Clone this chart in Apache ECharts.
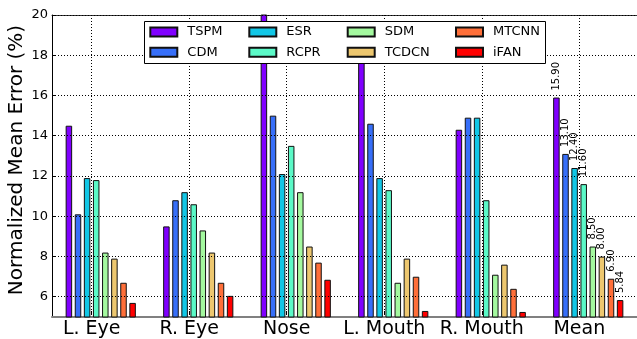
<!DOCTYPE html>
<html lang="en">
<head>
<meta charset="UTF-8">
<title>Normalized Mean Error</title>
<style>
    * {
        margin: 0;
        padding: 0;
    }

    #main {
        width: 637px;
        height: 339px;
    }
</style>
</head>
<body>
<div id="main"></div>
<script src="https://cdn.jsdelivr.net/npm/echarts@6/dist/echarts.min.js"></script>
<script>
    // data
    let categories = ['L. Eye', 'R. Eye', 'Nose', 'L. Mouth', 'R. Mouth', 'Mean'];
    let methods = ['TSPM', 'CDM', 'ESR', 'RCPR', 'SDM', 'TCDCN', 'MTCNN', 'iFAN'];
    let tspm = [14.5, 9.5, 22.2, 19.0, 14.3, 15.90];
    let cdm = [10.1, 10.8, 15.0, 14.6, 14.9, 13.10];
    let esr = [11.9, 11.2, 12.1, 11.9, 14.9, 12.40];
    let rcpr = [11.8, 10.6, 13.5, 11.3, 10.8, 11.60];
    let sdm = [8.2, 9.3, 11.2, 6.7, 7.1, 8.50];
    let tcdcn = [7.9, 8.2, 8.5, 7.9, 7.6, 8.00];
    let mtcnn = [6.7, 6.7, 7.7, 7.0, 6.4, 6.90];
    let ifan = [5.7, 6.05, 6.85, 5.3, 5.25, 5.84];
    let yMin = 5, yMax = 20;
    let yTickMin = 6, yTickStep = 2;

    let values = [tspm, cdm, esr, rcpr, sdm, tcdcn, mtcnn, ifan];
    let colors = ['#8000ff', '#376ff9', '#12c7e6', '#5bf9c7', '#a4f99f', '#edc76f', '#ff6f39', '#ff0000'];

    let series = methods.map((name, k) => {
        return {
            name: name,
            type: 'bar',
            xAxisIndex: 0,
            yAxisIndex: 0,
            barWidth: 6.5,
            barGap: '40%',
            z: 2,
            itemStyle: {
                color: colors[k],
                borderColor: '#111',
                borderWidth: 1
            },
            label: {
                show: false,
                position: 'top',
                rotate: 90,
                align: 'left',
                verticalAlign: 'middle',
                distance: 7,
                fontSize: 10,
                color: '#000',
                formatter: p => p.value.toFixed(2)
            },
            // only the Mean group is labelled
            data: values[k].map((v, i) => i === categories.length - 1 ? { value: v, label: { show: true } } : v)
        }
    })

    // matplotlib legend fills column by column: 4 columns of 2
    let legendCols = [149.3, 248.3, 346.7, 455];
    let legends = legendCols.map((x, c) => {
        return {
            orient: 'vertical',
            left: x,
            top: 25.5,
            padding: 0,
            itemWidth: 27,
            itemHeight: 9,
            itemGap: 7.3,
            icon: 'rect',
            selectedMode: false,
            z: 11,
            textStyle: {
                fontSize: 13,
                color: '#000',
                padding: [0, 0, 0, 5]
            },
            data: [methods[c * 2], methods[c * 2 + 1]]
        }
    })

    let hiddenAxis = {
        show: false
    }

    let option = {
        animation: false,
        textStyle: { fontFamily: 'DejaVu Sans' },
        grid: [
            { left: 52, right: 0, top: 15, bottom: 22 },  // bars + frame
            { left: 91.7, right: 57.7, top: 15, bottom: 22 },  // x ticks, labels, vertical grid
            { left: 52, right: 0, top: 15, bottom: 42.3 }   // y ticks, labels, horizontal grid
        ],
        legend: legends,
        xAxis: [
            {
                gridIndex: 0, type: 'category', data: categories,
                axisLabel: { show: false }, axisTick: { show: false },
                axisLine: { show: true, onZero: false, lineStyle: { color: '#808080', width: 2 } }
            },
            {
                gridIndex: 0, type: 'category', data: categories, position: 'top',
                axisLabel: { show: false }, axisTick: { show: false },
                axisLine: { show: true, onZero: false, lineStyle: { color: '#333', width: 1 } }
            },
            {
                gridIndex: 1, type: 'category', data: categories, boundaryGap: false, z: 3,
                axisLine: { show: false },
                axisTick: { show: true, inside: true, length: 4, interval: 0, lineStyle: { color: '#000' } },
                axisLabel: { fontSize: 19, color: '#000', margin: 5, interval: 0, hideOverlap: false },
                splitLine: { show: true, interval: 0, lineStyle: { color: '#000', width: 1, type: [1, 2] } }
            },
            Object.assign({ gridIndex: 2, type: 'value' }, hiddenAxis)
        ],
        yAxis: [
            {
                gridIndex: 0, type: 'value', min: yMin, max: yMax,
                axisLabel: { show: false }, axisTick: { show: false }, splitLine: { show: false },
                axisLine: { show: true, lineStyle: { color: '#000', width: 1 } }
            },
            Object.assign({ gridIndex: 1, type: 'value', min: 0, max: 1 }, hiddenAxis),
            {
                gridIndex: 2, type: 'value', min: yTickMin, max: yMax, interval: yTickStep, z: 3,
                axisLine: { show: false },
                axisTick: { show: true, inside: true, length: 4, lineStyle: { color: '#000' } },
                axisLabel: { fontSize: 13, color: '#000', margin: 4 },
                splitLine: { show: true, lineStyle: { color: '#000', width: 1, type: [1, 2] } }
            }
        ],
        graphic: [
            {
                type: 'rect', z: 10,
                shape: { x: 144.5, y: 21.5, width: 401, height: 42 },
                style: { fill: '#fff', stroke: '#000', lineWidth: 1 }
            },
            {
                type: 'text', z: 10,
                x: 17, y: 160, rotation: Math.PI / 2,
                style: {
                    text: 'Normalized Mean Error (%)',
                    font: '20px "DejaVu Sans"',
                    fill: '#000',
                    align: 'center',
                    verticalAlign: 'middle'
                }
            }
        ],
        series: series
    }

    let myCharts = echarts.init(document.getElementById('main'))
    myCharts.setOption(option)
    window.addEventListener('resize', () => {
        myCharts.resize()
    })
</script>
</body>
</html>
